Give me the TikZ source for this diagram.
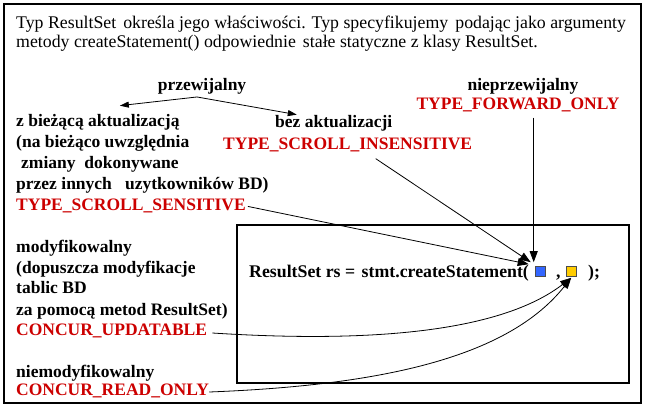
\documentclass[tikz,border=0pt]{standalone}
\usepackage{fontspec}
\setmainfont{Liberation Serif}
\usetikzlibrary{arrows.meta,calc}
\definecolor{myred}{RGB}{204,0,0}
\definecolor{sqblue}{RGB}{51,102,255}
\definecolor{sqyellow}{RGB}{255,204,0}
\begin{document}
\begin{tikzpicture}[x=1pt,y=-1pt,
  txt/.style={anchor=base west,inner sep=0pt,font=\fontsize{17.8}{19}\selectfont},
  lbl/.style={anchor=base west,inner sep=0pt,font=\fontsize{17.5}{21}\selectfont\bfseries},
  redlbl/.style={lbl,text=myred},
  codefont/.style={font=\fontsize{17.8}{21}\selectfont\bfseries},
  frame/.style={draw=black,line width=1.5pt},
  sqbox/.style={draw=black!70,line width=0.6pt,minimum width=10pt,minimum height=10pt,inner sep=0pt},
  conn/.style={line width=0.8pt,-{Triangle[length=11pt,width=8pt]}},
  conns/.style={line width=0.8pt,-{Triangle[length=9pt,width=6pt]}}]
\useasboundingbox (0,0) rectangle (646,409);
\draw[frame] (4,4) rectangle (641,403);
\draw[line width=1.2pt] (237,225) rectangle (629,383);
% title
\node[txt] (t1) at (16,29) {Typ ResultSet\hspace{7pt}określa jego właściwości. Typ specyfikujemy\hspace{7pt}podając jako argumenty};
\node[txt] (t2) at (16,48) {metody createStatement() odpowiednie\hspace{7pt}stałe statyczne z klasy ResultSet.};
% scrolling
\node[lbl,anchor=base] (przew) at (202,91) {przewijalny};
\node[lbl,anchor=base] (nieprz) at (523,91) {nieprzewijalny};
\node[redlbl,anchor=base] (fwd) at (518,110) {TYPE\_FORWARD\_ONLY};
\node[lbl] (zb1) at (16,127) {z bieżącą aktualizacją};
\node[lbl] (zb2) at (16,148) {(na bieżąco uwzględnia};
\node[lbl] (zb3) at (21,169) {zmiany\ \ dokonywane};
\node[lbl] (zb4) at (16,190) {przez innych\ \ \ uzytkowników BD)};
\node[redlbl] (sens) at (16,211) {TYPE\_SCROLL\_SENSITIVE};
\node[lbl] (bez) at (275,128) {bez aktualizacji};
\node[redlbl] (insens) at (223,150) {TYPE\_SCROLL\_INSENSITIVE};
% concurrency
\node[lbl] (m1) at (16,252) {modyfikowalny};
\node[lbl] (m2) at (16,273) {(dopuszcza modyfikacje};
\node[lbl] (m3) at (16,294) {tablic BD};
\node[lbl] (m4) at (16,315) {za pomocą metod ResultSet)};
\node[redlbl] (upd) at (16,335) {CONCUR\_UPDATABLE};
\node[lbl] (n1) at (16,377) {niemodyfikowalny};
\node[redlbl] (ro) at (16,395) {CONCUR\_READ\_ONLY};
% code line
\node[lbl,codefont] (code) at (249,277) {ResultSet rs =\hspace{2pt} stmt.createStatement(};
\node[sqbox,fill=sqblue] (sq1) at (540,271.5) {};
\node[lbl,codefont] (comma) at (556,277) {,};
\node[sqbox,fill=sqyellow] (sq2) at (571.5,271.5) {};
\node[lbl,codefont] (close) at (588,277) {);};
% connectors
\coordinate (tipS) at ($(sq1.north west)+(-6,-2)$);
\coordinate (tipI) at ($(sq1.north west)+(-4,-4)$);
\coordinate (tipF) at ($(sq1.north west)+(-1,-4)$);
\coordinate (tipY) at ($(sq2.south west)+(5,1)$);
\draw[conns] ($(przew.south)+(-5,2)$) -- ($(zb1.north)+(22,-9)$);
\draw[conns] ($(przew.south)+(-5,2)$) -- ($(bez.north)+(-37,-1)$);
\draw[conn] ($(sens.east)+(2,0)$) -- (tipS);
\draw[conn] ($(insens.south)+(28,6)$) -- (tipI);
\draw[conn] (tipF |- fwd.south) ++(0,5) -- (tipF);
\draw[conn] ($(upd.base east)+(5,-2)$) .. controls (400,345) and (510,325) .. (tipY);
\draw[conn] ($(ro.base east)+(0,-3)$) .. controls (390,385) and (510,355) .. (tipY);
\end{tikzpicture}
\end{document}
